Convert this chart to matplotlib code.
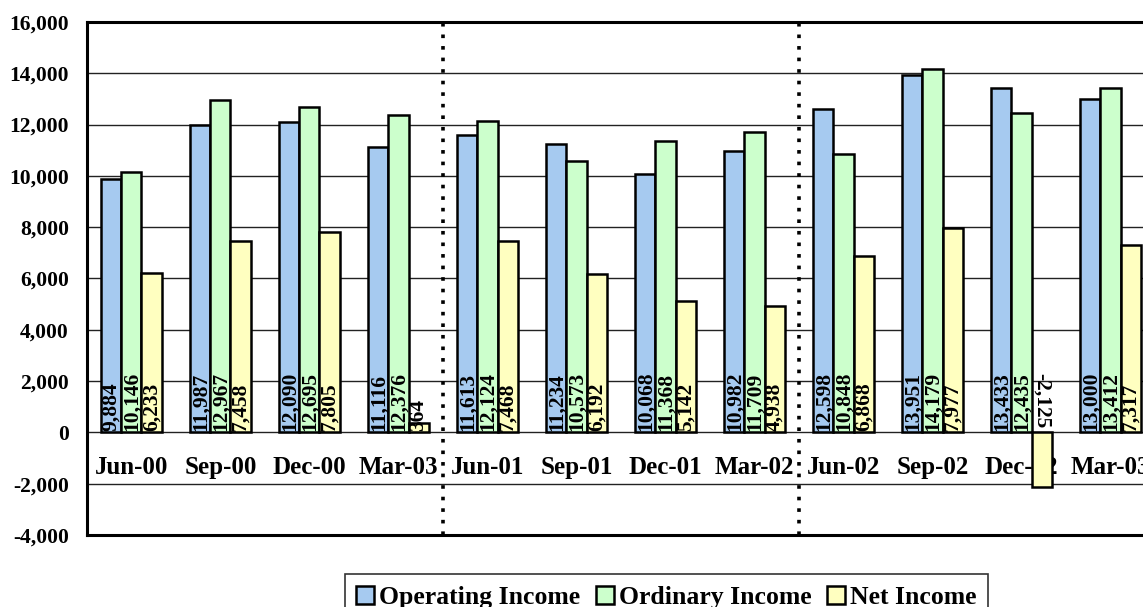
import matplotlib
matplotlib.use("Agg")
import matplotlib.pyplot as plt
import numpy as np

quarters = ["Jun-00", "Sep-00", "Dec-00", "Mar-03", "Jun-01", "Sep-01",
            "Dec-01", "Mar-02", "Jun-02", "Sep-02", "Dec-02", "Mar-03"]
operating = [9884, 11987, 12090, 11116, 11613, 11234, 10068, 10982, 12598, 13951, 13433, 13000]
ordinary = [10146, 12967, 12695, 12376, 12124, 10573, 11368, 11709, 10848, 14179, 12435, 13412]
net = [6233, 7458, 7805, 364, 7468, 6192, 5142, 4938, 6868, 7977, -2125, 7317]

series_names = ["Operating Income", "Ordinary Income", "Net Income"]
colors = ["#A6CAF0", "#CCFFCC", "#FFFFC0"]

plt.rcParams["font.family"] = ["Liberation Serif", "DejaVu Serif"]
plt.rcParams["font.weight"] = "bold"

fig = plt.figure(figsize=(11.43, 6.07), dpi=100)
ax = fig.add_axes([0.0761, 0.1186, 0.9344, 0.8452])

x = np.arange(len(quarters))
w = 0.225
bars = []
for k, (vals, c, name) in enumerate(zip([operating, ordinary, net], colors, series_names)):
    b = ax.bar(x + (k - 1) * w, vals, w, color=c, edgecolor="black", linewidth=1.8,
               label=name, zorder=3)
    bars.append(b)
    for xi, v in zip(x + (k - 1) * w, vals):
        if v >= 0:
            ax.text(xi, 50, f"{v:,}", rotation=90, ha="center", va="bottom",
                    fontsize=15.5, fontweight="bold", zorder=5)
        else:
            ax.text(xi, 150, f"{v:,}", rotation=270, ha="center", va="bottom",
                    fontsize=15.5, fontweight="bold", zorder=5)

# category labels sit inside the plot, just under the zero line
for xi, q in zip(x, quarters):
    ax.annotate(q, (xi, 0), xytext=(0, -25), textcoords="offset points",
                ha="center", va="center", fontsize=18, fontweight="bold", zorder=2)

for sep in [3.5, 7.5]:
    ax.axvline(sep, color="black", linestyle=(0, (1, 2.2)), linewidth=2.6, zorder=4)

ax.set_xlim(-0.5, len(quarters) - 0.5)
ax.set_ylim(-4000, 16000)
ax.set_yticks(np.arange(-4000, 16001, 2000))
ax.yaxis.set_major_formatter(matplotlib.ticker.FuncFormatter(lambda v, p: f"{int(v):,}"))
ax.tick_params(axis="y", length=0, pad=13, labelsize=15.5)
ax.set_xticks([])
ax.grid(axis="y", color="#222222", linewidth=1.0, zorder=0)
for s in ax.spines.values():
    s.set_linewidth(2.2)
    s.set_color("black")
for lab in ax.get_yticklabels():
    lab.set_fontweight("bold")

leg = fig.legend(handles=bars, labels=series_names, loc="upper center",
                 bbox_to_anchor=(0.583, 0.054), ncol=3, frameon=True, fancybox=False,
                 edgecolor="black", fontsize=18.5, handlelength=0.7, handleheight=0.7,
                 handletextpad=0.2, columnspacing=0.6, borderpad=0.45, borderaxespad=0)
leg.get_frame().set_linewidth(1.2)
for t in leg.get_texts():
    t.set_fontweight("bold")

fig.savefig("out.png", dpi=100)
